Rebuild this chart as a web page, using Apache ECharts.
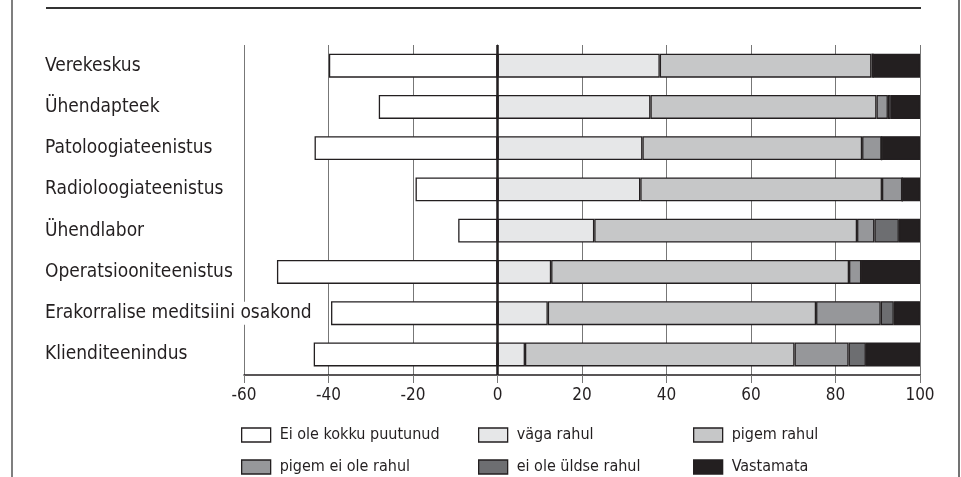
<!DOCTYPE html>
<html>
<head>
<meta charset="utf-8">
<script src="https://cdn.jsdelivr.net/npm/echarts@6/dist/echarts.min.js"></script>
<style>
  html, body { margin: 0; padding: 0; background: #fff; }
  #main { width: 961px; height: 477px; }
</style>
</head>
<body>
<div id="main"></div>
<script>
// data (percent)
const categories = ['Verekeskus', 'Ühendapteek', 'Patoloogiateenistus', 'Radioloogiateenistus',
  'Ühendlabor', 'Operatsiooniteenistus', 'Erakorralise meditsiini osakond', 'Klienditeenindus'];
const eiOleKokku = [-39.9, -28.1, -43.3, -19.4, -9.3, -52.2, -39.4, -43.5];
const vagaRahul = [38.4, 36.2, 34.3, 33.8, 22.9, 12.7, 11.9, 6.5];
const pigemRahul = [50.1, 53.5, 52.0, 57.2, 62.2, 70.5, 63.5, 63.8];
const pigemEiOle = [0.4, 2.7, 4.6, 4.8, 4.1, 2.9, 15.3, 12.8];
const eiOleYldse = [0, 0.7, 0, 0, 5.8, 0, 3.1, 4.1];
const vastamata = [11.1, 6.9, 9.1, 4.2, 5.0, 13.9, 6.2, 12.8];
const xTicks = { min: -60, max: 100, step: 20 };

const seriesDefs = [
  { name: 'Ei ole kokku puutunud', data: eiOleKokku, color: '#ffffff' },
  { name: 'väga rahul', data: vagaRahul, color: '#e6e7e8' },
  { name: 'pigem rahul', data: pigemRahul, color: '#c6c7c8' },
  { name: 'pigem ei ole rahul', data: pigemEiOle, color: '#96979a' },
  { name: 'ei ole üldse rahul', data: eiOleYldse, color: '#6d6e71' },
  { name: 'Vastamata', data: vastamata, color: '#231f20' }
];

const FONT = '"Liberation Sans Narrow", "DejaVu Sans Condensed", sans-serif';
const INK = '#231f20';

const series = seriesDefs.map((s, i) => ({
  name: s.name,
  type: 'bar',
  stack: 'all',
  barWidth: 24,
  data: s.data,
  itemStyle: { color: s.color, borderColor: INK, borderWidth: 1.3 },
  emphasis: { disabled: true },
  markLine: i === 1 ? {
    silent: true,
    symbol: 'none',
    label: { show: false },
    lineStyle: { color: INK, width: 2.5, type: 'solid' },
    data: [{ xAxis: 0 }]
  } : undefined
}));

// legend: 2 rows x 3 columns
const legPos = [[241, 427], [478, 427], [693, 427], [241, 459], [478, 459], [693, 459]];
const legends = seriesDefs.map((s, i) => ({
  data: [s.name],
  icon: 'rect',
  left: legPos[i][0],
  top: legPos[i][1],
  padding: 0,
  itemWidth: 29,
  itemHeight: 14,
  selectedMode: false,
  itemStyle: { borderColor: INK, borderWidth: 1.3 },
  textStyle: { fontFamily: FONT, fontSize: 16, color: INK, padding: [0, 0, 0, 4] }
}));

const myChart = echarts.init(document.getElementById('main'));
myChart.setOption({
  animation: false,
  backgroundColor: '#fff',
  textStyle: { fontFamily: FONT },
  legend: legends,
  grid: { left: 244, right: 41, top: 45, bottom: 102, containLabel: false },
  xAxis: {
    type: 'value',
    min: xTicks.min,
    max: xTicks.max,
    interval: xTicks.step,
    axisLine: { show: true, lineStyle: { color: INK, width: 1.5 } },
    axisTick: { show: true, length: 8, lineStyle: { color: '#777', width: 1 } },
    splitLine: { show: true, lineStyle: { color: '#777', width: 1 } },
    axisLabel: { fontFamily: FONT, fontSize: 17, color: INK, margin: 12 }
  },
  yAxis: {
    type: 'category',
    inverse: true,
    data: categories,
    axisLine: { show: true, lineStyle: { color: INK, width: 1.2 } },
    axisTick: { show: false },
    axisLabel: {
      fontFamily: FONT, fontSize: 19, color: INK, align: 'left', margin: 199,
      backgroundColor: '#fff', padding: [2, 1, 2, 0]
    }
  },
  graphic: [
    { type: 'line', shape: { x1: 46, y1: 8, x2: 921, y2: 8 }, style: { stroke: '#333', lineWidth: 2 } },
    { type: 'line', shape: { x1: 12, y1: 0, x2: 12, y2: 477 }, style: { stroke: '#555', lineWidth: 1.5 } },
    { type: 'line', shape: { x1: 959, y1: 0, x2: 959, y2: 477 }, style: { stroke: '#444', lineWidth: 1.5 } }
  ],
  series: series
});
</script>
</body>
</html>
